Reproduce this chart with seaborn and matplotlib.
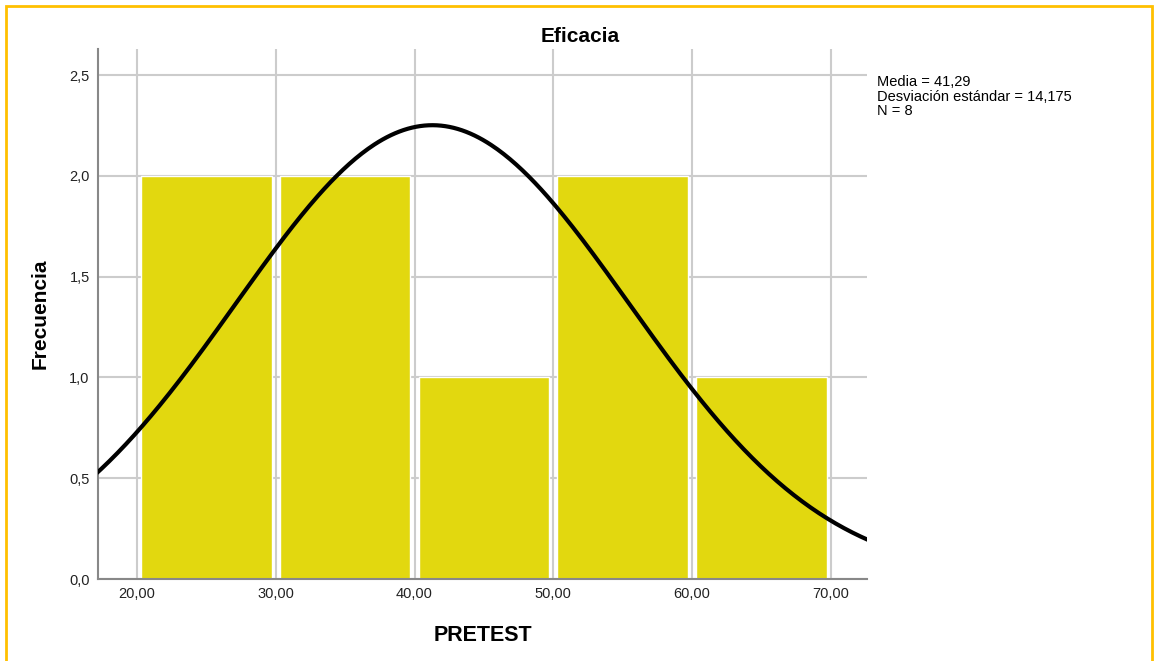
import numpy as np
import seaborn as sns
import matplotlib.pyplot as plt
from matplotlib.patches import Rectangle
from matplotlib.ticker import FuncFormatter

# --- Datos ---
bin_edges = [20, 30, 40, 50, 60, 70]
bin_counts = [2, 2, 1, 2, 1]
media = 41.29
desv = 14.175
n = 8
x_ticks = [20, 30, 40, 50, 60, 70]
y_ticks = [0.0, 0.5, 1.0, 1.5, 2.0, 2.5]

sns.set_style("white")
plt.rcParams['font.family'] = ['Liberation Sans', 'DejaVu Sans']
plt.rcParams['text.color'] = 'black'

fig = plt.figure(figsize=(11.56, 6.61), dpi=100)
ax = fig.add_axes([0.0848, 0.124, 0.6652, 0.802])

# --- Histograma ---
centers = [(a + b) / 2 for a, b in zip(bin_edges[:-1], bin_edges[1:])]
sns.histplot(x=centers, weights=bin_counts, bins=bin_edges, ax=ax, shrink=0.94,
             color="#E2D80F", alpha=1, edgecolor="white", linewidth=1, zorder=2)

# --- Curva normal ---
xs = np.linspace(15, 75, 400)
ys = n * 10 / (desv * np.sqrt(2 * np.pi)) * np.exp(-0.5 * ((xs - media) / desv) ** 2)
sns.lineplot(x=xs, y=ys, ax=ax, color="black", linewidth=3, zorder=3)

ax.set_xlim(17.2, 72.6)
ax.set_ylim(0, 2.63)
ax.set_xticks(x_ticks)
ax.set_yticks(y_ticks)
ax.xaxis.set_major_formatter(FuncFormatter(lambda v, p: f"{v:.2f}".replace(".", ",")))
ax.yaxis.set_major_formatter(FuncFormatter(lambda v, p: f"{v:.1f}".replace(".", ",")))
ax.tick_params(axis="both", length=0, labelsize=10.5, colors="#222222", pad=6)
ax.grid(True, color="#CCCCCC", linewidth=1.5, zorder=0)
ax.set_axisbelow(True)
for s in ["top", "right"]:
    ax.spines[s].set_visible(False)
for s in ["left", "bottom"]:
    ax.spines[s].set_color("#888888")
    ax.spines[s].set_linewidth(1.5)

ax.set_xlabel("PRETEST", fontsize=15.5, fontweight="bold", labelpad=17, color="black")
ax.set_ylabel("Frecuencia", fontsize=15, fontweight="bold", labelpad=14, color="black")
fig.text(0.502, 0.945, "Eficacia", ha="center", va="center", fontsize=15, fontweight="bold")

fig.text(0.7585, 0.886, f"Media = 41,29\nDesviación estándar = 14,175\nN = {n}",
         ha="left", va="top", fontsize=10.5, linespacing=1.02)

# Marco amarillo
fig.patches.append(Rectangle((6 / 1156, -0.05), 1146 / 1156, 1 - 6 / 661 + 0.05,
                             transform=fig.transFigure, fill=False,
                             edgecolor="#FFC000", linewidth=2))

fig.savefig("out.png", dpi=100)
